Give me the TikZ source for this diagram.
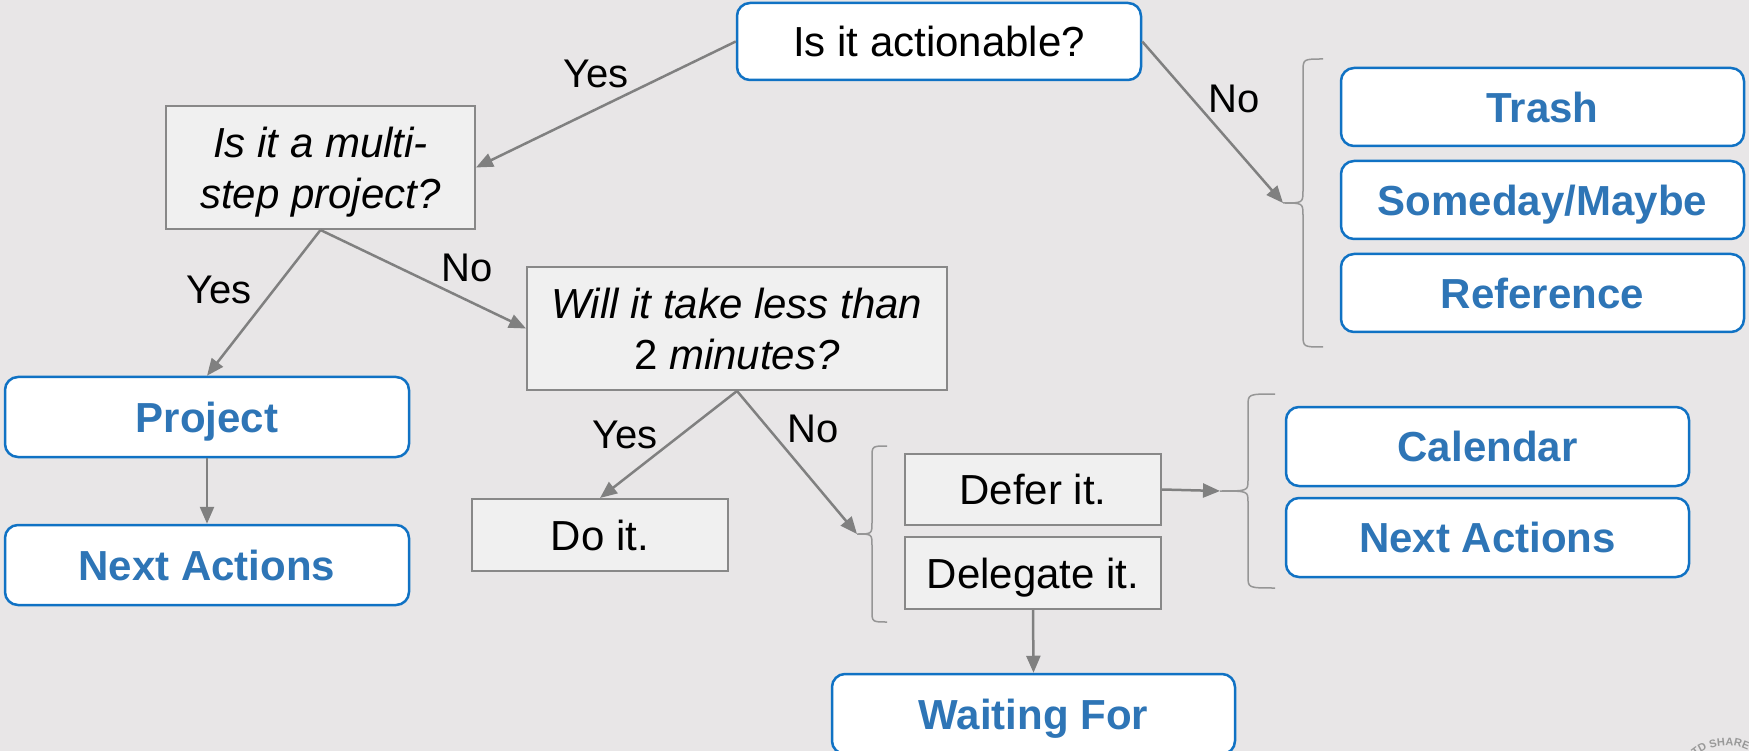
\documentclass[tikz,border=0pt]{standalone}
\usepackage{fontspec}
\setmainfont{Liberation Sans}
\usetikzlibrary{arrows.meta,decorations.text}
\definecolor{bgc}{RGB}{232,230,231}
\definecolor{grayfill}{RGB}{240,240,240}
\definecolor{grayline}{RGB}{136,136,136}
\definecolor{arrowc}{RGB}{128,128,128}
\definecolor{braceline}{RGB}{150,150,150}
\definecolor{bluetext}{RGB}{46,117,182}
\definecolor{blueline}{RGB}{16,114,196}
\tikzset{
  boxbase/.style={rectangle, inner sep=0pt, align=center, text depth=0pt, font=\fontsize{42}{51}\selectfont},
  graybox/.style={boxbase, draw=grayline, line width=2pt, fill=grayfill},
  bluebox/.style={boxbase, draw=blueline, line width=2.5pt, fill=white, rounded corners=13pt},
  bluetxt/.style={bluebox, text=bluetext, font=\fontsize{42}{51}\selectfont\bfseries},
  arr/.style={draw=arrowc, line width=2.5pt, -{Triangle[length=17pt,width=14pt]}},
  bracestyle/.style={draw=braceline, line width=1.5pt},
  lbl/.style={font=\fontsize{40}{48}\selectfont, inner sep=0pt}
}
\begin{document}
\begin{tikzpicture}[x=1pt,y=-1pt]
\useasboundingbox (0,0) rectangle (1749,751);
\fill[bgc] (0,0) rectangle (1749,751);

% nodes
\node[bluebox, minimum width=404pt, minimum height=77pt] (top) at (939,41.5) {Is it actionable?};
\node[graybox, minimum width=309pt, minimum height=123pt] (multi) at (320.5,167.5) {\itshape Is it a multi-\\\itshape step project?};
\node[graybox, minimum width=420pt, minimum height=123pt] (will) at (737,328.5) {\itshape Will it take less than\\2 \itshape minutes?};
\node[graybox, minimum width=256pt, minimum height=72pt] (doit) at (600,535) {Do it.};
\node[graybox, minimum width=256pt, minimum height=71pt] (defer) at (1033,489.5) {Defer it.};
\node[graybox, minimum width=256pt, minimum height=72pt] (deleg) at (1033,573) {Delegate it.};
\node[bluetxt, minimum width=404pt, minimum height=80pt] (project) at (207,417) {Project};
\node[bluetxt, minimum width=404pt, minimum height=80pt] (nextl) at (207,565) {Next Actions};
\node[bluetxt, minimum width=403pt, minimum height=78pt] (trash) at (1542.5,107) {Trash};
\node[bluetxt, minimum width=403pt, minimum height=78pt] (someday) at (1542.5,200) {Someday/Maybe};
\node[bluetxt, minimum width=403pt, minimum height=78pt] (refer) at (1542.5,293) {Reference};
\node[bluetxt, minimum width=403pt, minimum height=79pt] (calendar) at (1487.5,446.5) {Calendar};
\node[bluetxt, minimum width=403pt, minimum height=79pt] (nextr) at (1487.5,537.5) {Next Actions};
\node[bluetxt, minimum width=403pt, minimum height=80pt] (waiting) at (1033.5,714) {Waiting For};

% braces
\coordinate (b1) at (1283,203);
\coordinate (b2) at (857,534);
\coordinate (b3) at (1220,491);
\draw[bracestyle] (1323,59) .. controls (1303,59) .. (1303,72) -- (1303,190) .. controls (1303,203) .. (b1)
  .. controls (1303,203) .. (1303,216) -- (1303,334) .. controls (1303,347) .. (1323,347);
\draw[bracestyle] (887,446) .. controls (872,446) .. (872,458) -- (872,522) .. controls (872,534) .. (b2)
  .. controls (872,534) .. (872,546) -- (872,610) .. controls (872,622) .. (887,622);
\draw[bracestyle] (1275,394) .. controls (1248,394) .. (1248,406) -- (1248,480) .. controls (1248,491) .. (b3)
  .. controls (1248,491) .. (1248,502) -- (1248,576) .. controls (1248,588) .. (1275,588);

% connectors
\draw[arr] (top.west) -- (multi.east);
\draw[arr] (top.east) -- (b1);
\draw[arr] (multi.south) -- (project.north);
\draw[arr] (multi.south) -- (will.west);
\draw[arr] (will.south) -- (doit.north);
\draw[arr] (will.south) -- (b2);
\draw[arr] (defer.east) -- (b3);
\draw[arr] (deleg.south) -- (waiting.north);
\draw[arr] (project.south) -- (nextl.north);

% labels
\node[lbl] (l1) at (596,74) {Yes};
\node[lbl] (l2) at (1234,99) {No};
\node[lbl] (l3) at (219,290) {Yes};
\node[lbl] (l4) at (467,268) {No};
\node[lbl] (l5) at (625,435) {Yes};
\node[lbl] (l6) at (813,429) {No};

% watermark
\path[decorate, decoration={text along path, text align=center,
  text={|\fontsize{11}{11}\selectfont\bfseries\color{gray!80}|TD SHARE}}]
  (1690,762) .. controls (1708,742) and (1735,741) .. (1754,754);
\end{tikzpicture}
\end{document}
